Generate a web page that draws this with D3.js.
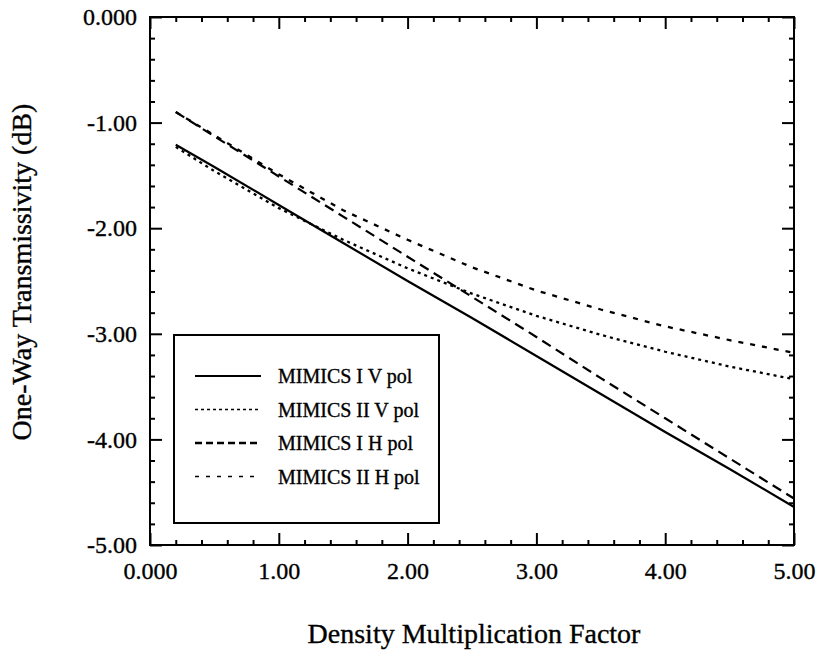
<!DOCTYPE html>
<html>
<head>
<meta charset="utf-8">
<script src="https://cdn.jsdelivr.net/npm/d3@7"></script>
<style>
  html, body { margin: 0; padding: 0; background: #fff; }
  svg text { font-family: "Liberation Serif", "Times New Roman", serif; fill: #000; stroke: #000; stroke-width: 0.35px; }
</style>
</head>
<body>
<svg id="chart" width="822" height="653"></svg>
<script>
// Density multiplication factor (x) at which each model was evaluated
const densityFactor = [0.2, 0.5, 1.0, 1.5, 2.0, 2.5, 3.0, 3.5, 4.0, 4.5, 5.0];

// One-way transmissivity (dB) for each model / polarisation
const mimics1V = [-1.21, -1.42, -1.78, -2.14, -2.50, -2.85, -3.21, -3.57, -3.93, -4.28, -4.64];
const mimics2V = [-1.23, -1.46, -1.81, -2.11, -2.38, -2.62, -2.83, -3.01, -3.17, -3.31, -3.43];
const mimics1H = [-0.90, -1.13, -1.51, -1.89, -2.27, -2.65, -3.03, -3.42, -3.80, -4.18, -4.56];
const mimics2H = [-0.90, -1.12, -1.49, -1.83, -2.11, -2.37, -2.59, -2.77, -2.93, -3.06, -3.18];

const seriesNames = ["MIMICS I V pol", "MIMICS II V pol", "MIMICS I H pol", "MIMICS II H pol"];

// Axis ticks and their printed labels
const xTicks = [0, 1, 2, 3, 4, 5];
const xTickLabels = ["0.000", "1.00", "2.00", "3.00", "4.00", "5.00"];
const yTicks = [0, -1, -2, -3, -4, -5];
const yTickLabels = ["0.000", "-1.00", "-2.00", "-3.00", "-4.00", "-5.00"];

const xTitle = "Density Multiplication Factor";
const yTitle = "One-Way Transmissivity (dB)";

const series = [
  { name: seriesNames[0], values: mimics1V, dash: null,   width: 2.2, legendDash: null,  legendWidth: 2.2 },
  { name: seriesNames[1], values: mimics2V, dash: "3,4",  width: 2.3, legendDash: "3,3", legendWidth: 1.6 },
  { name: seriesNames[2], values: mimics1H, dash: "10,6", width: 2.2, legendDash: "7,4", legendWidth: 2.4 },
  { name: seriesNames[3], values: mimics2H, dash: "5,7",  width: 2.3, legendDash: "4,7", legendWidth: 1.7 }
];

const svg = d3.select("#chart");
const plotLeft = 150, plotRight = 794, plotTop = 17, plotBottom = 545;

const x = d3.scaleLinear().domain([0, 5]).range([plotLeft, plotRight]);
const y = d3.scaleLinear().domain([-5, 0]).range([plotBottom, plotTop]);

const majorLen = 12, minorLen = 5;
const xMinor = d3.range(0, 5.0001, 0.2).filter(v => Math.abs(v - Math.round(v)) > 1e-6);
const yMinor = d3.range(-5, 0.0001, 0.2).filter(v => Math.abs(v - Math.round(v)) > 1e-6);

function styleAxis(g) {
  g.select(".domain").remove();
  g.selectAll(".tick line").attr("stroke", "#000").attr("stroke-width", 2);
}

// Bottom axis with labels
svg.append("g")
  .attr("transform", `translate(0,${plotBottom})`)
  .call(d3.axisBottom(x).tickValues(xTicks).tickSize(-majorLen).tickPadding(17)
        .tickFormat((d, i) => xTickLabels[i]))
  .call(styleAxis)
  .call(g => g.selectAll("text").attr("font-size", 24).attr("font-family", "Liberation Serif"));

// Left axis with labels
svg.append("g")
  .attr("transform", `translate(${plotLeft},0)`)
  .call(d3.axisLeft(y).tickValues(yTicks).tickSize(-majorLen).tickPadding(13)
        .tickFormat((d, i) => yTickLabels[i]))
  .call(styleAxis)
  .call(g => g.selectAll("text").attr("font-size", 24).attr("font-family", "Liberation Serif"));

// Top and right axes: ticks only
svg.append("g").attr("transform", `translate(0,${plotTop})`)
  .call(d3.axisTop(x).tickValues(xTicks).tickSize(-majorLen).tickFormat(""))
  .call(styleAxis);
svg.append("g").attr("transform", `translate(${plotRight},0)`)
  .call(d3.axisRight(y).tickValues(yTicks).tickSize(-majorLen).tickFormat(""))
  .call(styleAxis);

// Minor ticks on all four sides
svg.append("g").attr("transform", `translate(0,${plotBottom})`)
  .call(d3.axisBottom(x).tickValues(xMinor).tickSize(-minorLen).tickFormat("")).call(styleAxis);
svg.append("g").attr("transform", `translate(0,${plotTop})`)
  .call(d3.axisTop(x).tickValues(xMinor).tickSize(-minorLen).tickFormat("")).call(styleAxis);
svg.append("g").attr("transform", `translate(${plotLeft},0)`)
  .call(d3.axisLeft(y).tickValues(yMinor).tickSize(-minorLen).tickFormat("")).call(styleAxis);
svg.append("g").attr("transform", `translate(${plotRight},0)`)
  .call(d3.axisRight(y).tickValues(yMinor).tickSize(-minorLen).tickFormat("")).call(styleAxis);

// Plot frame
svg.append("rect")
  .attr("x", plotLeft).attr("y", plotTop)
  .attr("width", plotRight - plotLeft).attr("height", plotBottom - plotTop)
  .attr("fill", "none").attr("stroke", "#000").attr("stroke-width", 2);

// Curves
const line = d3.line().x((d, i) => x(densityFactor[i])).y(d => y(d));
series.forEach(s => {
  svg.append("path")
    .datum(s.values)
    .attr("d", line)
    .attr("fill", "none")
    .attr("stroke", "#000")
    .attr("stroke-width", s.width)
    .attr("stroke-dasharray", s.dash);
});

// Legend
const legend = svg.append("g");
legend.append("rect")
  .attr("x", 174).attr("y", 335).attr("width", 265).attr("height", 188)
  .attr("fill", "#fff").attr("stroke", "#000").attr("stroke-width", 2);
series.forEach((s, i) => {
  const ly = 376 + i * 33.5;
  legend.append("line")
    .attr("x1", 195).attr("x2", 261).attr("y1", ly).attr("y2", ly)
    .attr("stroke", "#000").attr("stroke-width", s.legendWidth)
    .attr("stroke-dasharray", s.legendDash);
  legend.append("text")
    .attr("x", 278).attr("y", ly + 7)
    .attr("font-size", 20)
    .text(s.name);
});

// Axis titles
svg.append("text")
  .attr("x", 474).attr("y", 643)
  .attr("text-anchor", "middle").attr("font-size", 28)
  .text(xTitle);
svg.append("text")
  .attr("transform", `translate(31,272) rotate(-90)`)
  .attr("text-anchor", "middle").attr("font-size", 28)
  .text(yTitle);
</script>
</body>
</html>
